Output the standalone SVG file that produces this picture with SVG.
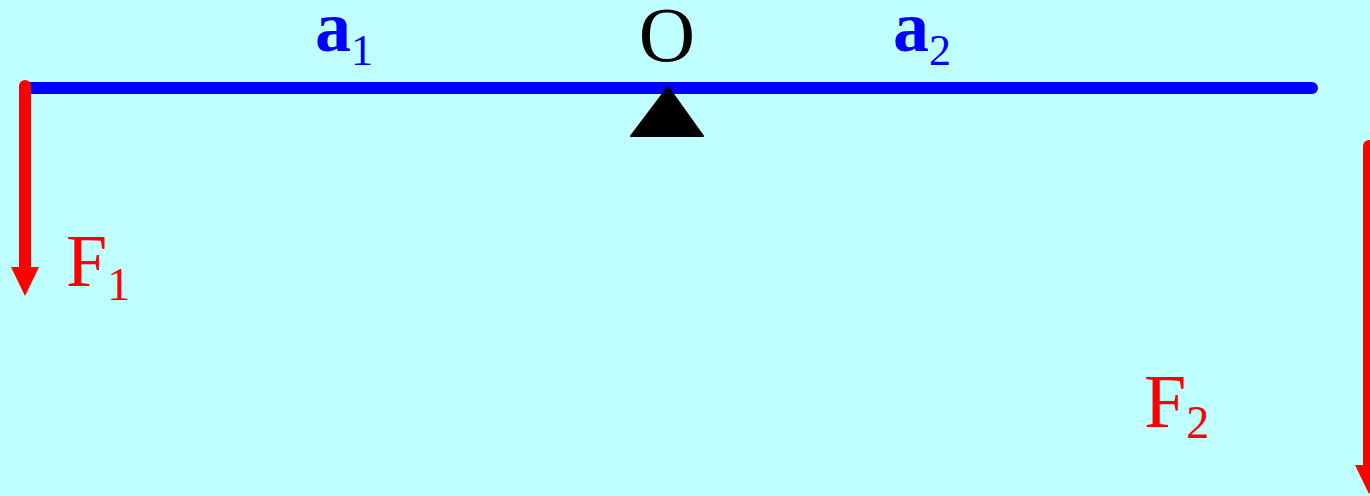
<svg xmlns="http://www.w3.org/2000/svg" width="1370" height="496" viewBox="0 0 1370 496">
<style>
.blue{fill:#0000FF;font-weight:bold}
.red{fill:#FF0000}
.force{stroke:#FF0000;stroke-width:12;stroke-linecap:round;fill:none}
</style>
<rect width="1370" height="496" fill="#BFFFFF"/>
<g id="beam">
<line x1="25" y1="88" x2="1312" y2="88" stroke="#0000FF" stroke-width="12" stroke-linecap="round"/>
</g>
<g id="fulcrum">
<polygon points="668,87 703,136 631,136" fill="#000000" stroke="#000000" stroke-width="2" stroke-linejoin="round"/>
<text font-family="Liberation Serif" x="667" y="61" font-size="78" text-anchor="middle" fill="#000000">O</text>
</g>
<g id="label-a1">
<text font-family="Liberation Serif" class="blue" x="315" y="51" font-size="72">a<tspan font-size="44" font-weight="normal" dy="14">1</tspan></text>
</g>
<g id="label-a2">
<text font-family="Liberation Serif" class="blue" x="893" y="51" font-size="72">a<tspan font-size="44" font-weight="normal" dy="14">2</tspan></text>
</g>
<g id="connectors">
<line class="force" x1="25" y1="86" x2="25" y2="270"/>
<polygon points="11,267 39,267 25,296" fill="#FF0000"/>
<line class="force" x1="1369" y1="146" x2="1369" y2="470"/>
<polygon points="1355,465 1383,465 1369,494" fill="#FF0000"/>
</g>
<g id="label-F1">
<text font-family="Liberation Serif" class="red" x="66" y="286" font-size="74">F<tspan font-size="46" dy="14">1</tspan></text>
</g>
<g id="label-F2">
<text font-family="Liberation Serif" class="red" x="1144" y="427" font-size="76">F<tspan font-size="46" dy="11">2</tspan></text>
</g>
</svg>
